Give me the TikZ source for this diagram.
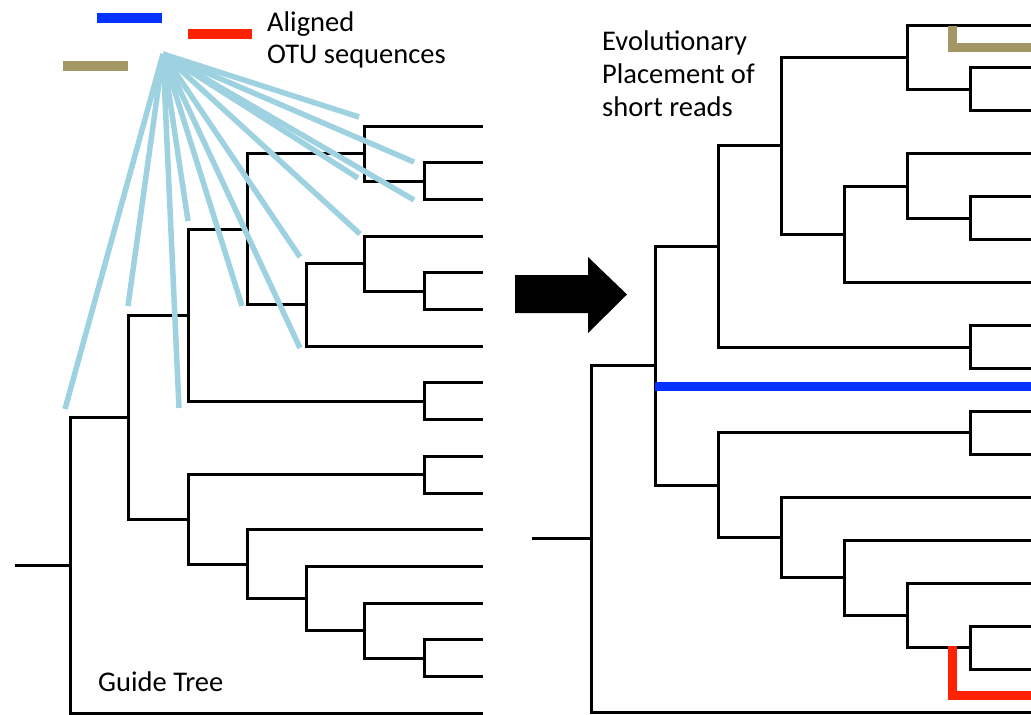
\documentclass[tikz,border=0pt]{standalone}
\usepackage{fontspec}
\setmainfont{Carlito}
\definecolor{fanblue}{RGB}{158,210,224}
\definecolor{seqblue}{RGB}{0,51,255}
\definecolor{seqred}{RGB}{255,34,0}
\definecolor{seqtan}{RGB}{163,151,102}
\begin{document}
\begin{tikzpicture}[x=1pt,y=-1pt,
  branch/.style={line width=3pt, line join=miter},
  fan/.style={line width=5.5pt, draw=fanblue},
  seqbar/.style={line width=10pt},
  placed/.style={line width=9pt, line join=miter},
  lbl/.style={inner sep=0pt, anchor=base west, font=\fontsize{28.5}{33}\selectfont}]
\useasboundingbox (0,0) rectangle (1031,715);
% ---------------- left guide tree ----------------
\coordinate (l0) at (483,126);
\coordinate (l1) at (483,162.7);
\coordinate (l2) at (483,199.4);
\coordinate (l3) at (483,236.1);
\coordinate (l4) at (483,272.8);
\coordinate (l5) at (483,309.5);
\coordinate (l6) at (483,346.2);
\coordinate (l7) at (483,382.9);
\coordinate (l8) at (483,419.6);
\coordinate (l9) at (483,456.3);
\coordinate (l10) at (483,493);
\coordinate (l11) at (483,529.7);
\coordinate (l12) at (483,566.4);
\coordinate (l13) at (483,603.1);
\coordinate (l14) at (483,639.8);
\coordinate (l15) at (483,676.5);
\coordinate (l16) at (483,713.2);
\coordinate (lB) at (424,181.05);
\coordinate (lA) at (364,153.5);
\coordinate (lD) at (424,291.15);
\coordinate (lC) at (364,263.6);
\coordinate (lE) at (306,304.9);
\coordinate (lF) at (247,229.2);
\coordinate (lH) at (424,401.25);
\coordinate (lG) at (188,315.2);
\coordinate (lK) at (424,474.65);
\coordinate (lO) at (424,658.15);
\coordinate (lN) at (364,630.6);
\coordinate (lM) at (306,598.5);
\coordinate (lL) at (247,564.1);
\coordinate (lJ) at (188,519.4);
\coordinate (lI) at (128,417.3);
\coordinate (lR) at (70,565.25);
\coordinate (lS) at (15,565.25);
\draw[branch] (lS) -- (lR);
\draw[branch] (lR) |- (lI);
\draw[branch] (lR) |- (l16);
\draw[branch] (lI) |- (lG);
\draw[branch] (lI) |- (lJ);
\draw[branch] (lG) |- (lF);
\draw[branch] (lG) |- (lH);
\draw[branch] (lF) |- (lA);
\draw[branch] (lF) |- (lE);
\draw[branch] (lA) |- (l0);
\draw[branch] (lA) |- (lB);
\draw[branch] (lB) |- (l1);
\draw[branch] (lB) |- (l2);
\draw[branch] (lE) |- (lC);
\draw[branch] (lE) |- (l6);
\draw[branch] (lC) |- (l3);
\draw[branch] (lC) |- (lD);
\draw[branch] (lD) |- (l4);
\draw[branch] (lD) |- (l5);
\draw[branch] (lH) |- (l7);
\draw[branch] (lH) |- (l8);
\draw[branch] (lJ) |- (lK);
\draw[branch] (lJ) |- (lL);
\draw[branch] (lK) |- (l9);
\draw[branch] (lK) |- (l10);
\draw[branch] (lL) |- (l11);
\draw[branch] (lL) |- (lM);
\draw[branch] (lM) |- (l12);
\draw[branch] (lM) |- (lN);
\draw[branch] (lN) |- (l13);
\draw[branch] (lN) |- (lO);
\draw[branch] (lO) |- (l14);
\draw[branch] (lO) |- (l15);
% ---------------- fan of aligned sequences ----------------
\coordinate (apex) at (163,54);
\coordinate (f1) at (359,117);
\coordinate (f2) at (414,162);
\coordinate (f3) at (358,178);
\coordinate (f4) at (414,200);
\coordinate (f5) at (360,234);
\coordinate (f6) at (300,257);
\coordinate (f7) at (242,306);
\coordinate (f8) at (300,348);
\coordinate (f9) at (188,221);
\coordinate (f10) at (128,306);
\coordinate (f11) at (179,408);
\coordinate (f12) at (65,409);
\foreach \f in {f1,f2,f3,f4,f5,f6,f7,f8,f9,f10,f11,f12}
  \draw[fan] (apex) -- (\f);
% sequence bars
\draw[seqbar, seqblue] (97,18) -- (162,18);
\draw[seqbar, seqred] (188,33.5) -- (252,33.5);
\draw[seqbar, seqtan] (63,65.5) -- (128,65.5);
% ---------------- labels ----------------
\node[lbl] (aligned) at (267,31) {Aligned};
\node[lbl] (otu) at (267,63.5) {OTU sequences};
\node[lbl] (evo) at (602,50) {Evolutionary};
\node[lbl] (place) at (602,83) {Placement of};
\node[lbl] (short) at (602,116) {short reads};
\node[lbl] (guide) at (98,691) {Guide Tree};
% ---------------- big arrow ----------------
\fill (515,275) -- (588,275) -- (588,257) -- (627,294.5) -- (588,333) -- (588,313) -- (515,313) -- cycle;
% ---------------- right tree ----------------
\coordinate (r0) at (1031,25);
\coordinate (r1) at (1031,67.94);
\coordinate (r2) at (1031,110.88);
\coordinate (r3) at (1031,153.82);
\coordinate (r4) at (1031,196.76);
\coordinate (r5) at (1031,239.7);
\coordinate (r6) at (1031,282.64);
\coordinate (r7) at (1031,325.58);
\coordinate (r8) at (1031,368.52);
\coordinate (r9) at (1031,411.46);
\coordinate (r10) at (1031,454.4);
\coordinate (r11) at (1031,497.34);
\coordinate (r12) at (1031,540.28);
\coordinate (r13) at (1031,583.22);
\coordinate (r14) at (1031,626.16);
\coordinate (r15) at (1031,669.1);
\coordinate (r16) at (1031,712.04);
\coordinate (rT) at (970,89.41);
\coordinate (rS) at (907,57.2);
\coordinate (rW) at (970,218.23);
\coordinate (rV) at (907,186.0);
\coordinate (rU) at (844,234.3);
\coordinate (rR) at (781,145.8);
\coordinate (rX) at (970,347.05);
\coordinate (rQ) at (718,246.4);
\coordinate (rZ) at (970,432.93);
\coordinate (rAD) at (970,647.63);
\coordinate (rAC) at (907,615.4);
\coordinate (rAB) at (844,577.8);
\coordinate (rAA) at (781,537.6);
\coordinate (rY) at (718,485.3);
\coordinate (rP) at (655,365.85);
\coordinate (rRoot) at (591,538.9);
\coordinate (rStub) at (532,538.9);
\draw[branch] (rStub) -- (rRoot);
\draw[branch] (rRoot) |- (rP);
\draw[branch] (rRoot) |- (r16);
\draw[branch] (rP) |- (rQ);
\draw[branch] (rP) |- (rY);
\draw[branch] (rQ) |- (rR);
\draw[branch] (rQ) |- (rX);
\draw[branch] (rR) |- (rS);
\draw[branch] (rR) |- (rU);
\draw[branch] (rS) |- (r0);
\draw[branch] (rS) |- (rT);
\draw[branch] (rT) |- (r1);
\draw[branch] (rT) |- (r2);
\draw[branch] (rU) |- (rV);
\draw[branch] (rU) |- (r6);
\draw[branch] (rV) |- (r3);
\draw[branch] (rV) |- (rW);
\draw[branch] (rW) |- (r4);
\draw[branch] (rW) |- (r5);
\draw[branch] (rX) |- (r7);
\draw[branch] (rX) |- (r8);
\draw[branch] (rY) |- (rZ);
\draw[branch] (rY) |- (rAA);
\draw[branch] (rZ) |- (r9);
\draw[branch] (rZ) |- (r10);
\draw[branch] (rAA) |- (r11);
\draw[branch] (rAA) |- (rAB);
\draw[branch] (rAB) |- (r12);
\draw[branch] (rAB) |- (rAC);
\draw[branch] (rAC) |- (r13);
\draw[branch] (rAC) |- (rAD);
\draw[branch] (rAD) |- (r14);
\draw[branch] (rAD) |- (r15);
% ---------------- placed short reads ----------------
\coordinate (blue0) at (655,386);
\coordinate (blue1) at (1031,386);
\draw[placed, seqblue] (blue0) -- (blue1);
\coordinate (tan0) at (952,26);
\coordinate (tan1) at (1031,47);
\draw[placed, seqtan] (tan0) |- (tan1);
\coordinate (red0) at (952,646);
\coordinate (red1) at (1031,695);
\draw[placed, seqred] (red0) |- (red1);
\end{tikzpicture}
\end{document}
